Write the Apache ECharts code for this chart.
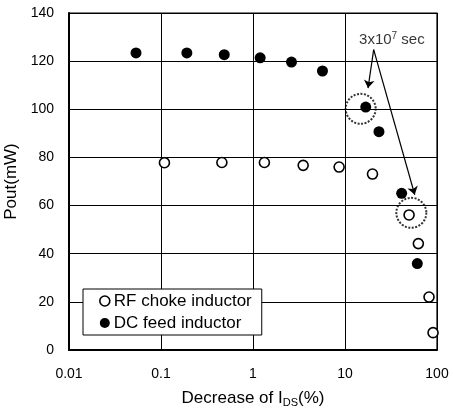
<!DOCTYPE html>
<html>
<head>
<meta charset="utf-8">
<script src="https://cdn.jsdelivr.net/npm/echarts@6/dist/echarts.min.js"></script>
<style>
  html, body { margin: 0; padding: 0; background: #fff; }
  #chart { width: 454px; height: 414px; }
</style>
</head>
<body>
<div id="chart"></div>
<script>
// Decrease of I_DS (%) and output power (mW) for the two bias inductor types
const rfChokeX = [0.109, 0.459, 1.33, 3.51, 8.63, 19.9, 49.7, 62.7, 81.9, 90.6];
const rfChokeY = [77.8, 77.9, 77.9, 76.7, 76.0, 73.1, 56.1, 44.2, 22.0, 7.2];
const dcFeedX = [0.0535, 0.191, 0.487, 1.196, 2.62, 5.69, 16.8, 23.4, 41.3, 61.1];
const dcFeedY = [123.4, 123.4, 122.7, 121.4, 119.6, 115.9, 100.9, 90.7, 65.1, 35.9];

// Points reached after 3x10^7 sec of stress (ringed with dotted circles)
const stressedX = [14.8, 52.6];
const stressedY = [100.2, 57.0];

// Annotation text anchor and arrow end points
const noteX = [32.3];
const noteY = [128.8];
const arrowFromX = [20.5, 20.5];
const arrowFromY = [124.8, 124.8];
const arrowToX = [17.8, 57.3];
const arrowToY = [108.8, 64.5];

const xTickValues = [0.01, 0.1, 1, 10, 100];
const xTickLabels = ['0.01', '0.1', '1', '10', '100'];
const yTickLabels = ['0', '20', '40', '60', '80', '100', '120', '140'];

const FONT = 'Liberation Sans, Arial, sans-serif';

const zip = (xs, ys) => xs.map((x, i) => [x, ys[i]]);

const chart = echarts.init(document.getElementById('chart'), null, { renderer: 'canvas' });

chart.setOption({
  animation: false,
  backgroundColor: '#fff',
  textStyle: { fontFamily: FONT, color: '#000' },
  grid: {
    left: 69, right: 17, top: 13, bottom: 64,
    outerBoundsMode: 'none',
    containLabel: false,
    show: true, borderColor: '#000', borderWidth: 1.2
  },
  legend: {
    orient: 'vertical',
    left: 83, top: 289,
    padding: [2, 10, 2, 16],
    itemGap: 2,
    itemWidth: 10, itemHeight: 10,
    backgroundColor: '#fff',
    borderColor: '#000', borderWidth: 1,
    borderRadius: 0,
    textStyle: { fontFamily: FONT, fontSize: 17, color: '#000', lineHeight: 20, padding: [0, 0, 0, -1] },
    data: [
      { name: 'RF choke inductor', icon: 'circle', itemStyle: { color: '#fff', borderColor: '#000', borderWidth: 1.6 } },
      { name: 'DC feed inductor', icon: 'circle', itemStyle: { color: '#000' } }
    ]
  },
  xAxis: {
    type: 'log',
    logBase: 10,
    min: 0.01, max: 100,
    name: '{a|Decrease of I}{s|DS}{a|(%)}',
    nameLocation: 'middle',
    nameGap: 39,
    nameTextStyle: {
      rich: {
        a: { fontFamily: FONT, fontSize: 17, color: '#000' },
        s: { fontFamily: FONT, fontSize: 11, color: '#000', verticalAlign: 'bottom', padding: [8, 0, 0, 0] }
      }
    },
    axisLine: { show: true, lineStyle: { color: '#000', width: 2 } },
    axisTick: { show: false },
    splitLine: { show: true, lineStyle: { color: '#000', width: 1 } },
    minorSplitLine: { show: false },
    axisLabel: {
      fontFamily: FONT, fontSize: 14, color: '#000', margin: 17,
      formatter: v => {
        const i = xTickValues.findIndex(t => Math.abs(Math.log10(t) - Math.log10(v)) < 1e-6);
        return i >= 0 ? xTickLabels[i] : '';
      }
    }
  },
  yAxis: {
    type: 'value',
    min: 0, max: 140, interval: 20,
    name: 'Pout(mW)',
    nameLocation: 'middle',
    nameGap: 34,
    nameTextStyle: { fontFamily: FONT, fontSize: 17, color: '#000' },
    axisLine: { show: true, lineStyle: { color: '#000', width: 2 } },
    axisTick: { show: false },
    splitLine: { show: true, lineStyle: { color: '#000', width: 1 } },
    axisLabel: {
      fontFamily: FONT, fontSize: 14, color: '#000', margin: 15,
      formatter: v => yTickLabels[Math.round(v / 20)]
    }
  },
  series: [
    {
      name: 'RF choke inductor',
      type: 'scatter',
      symbol: 'circle',
      symbolSize: 10,
      itemStyle: { color: '#fff', borderColor: '#000', borderWidth: 1.6, opacity: 1 },
      data: zip(rfChokeX, rfChokeY),
      z: 3
    },
    {
      name: 'DC feed inductor',
      type: 'scatter',
      symbol: 'circle',
      symbolSize: 11,
      itemStyle: { color: '#000', opacity: 1 },
      data: zip(dcFeedX, dcFeedY),
      z: 3
    },
    {
      name: 'stressed',
      type: 'scatter',
      symbol: 'circle',
      symbolSize: 30,
      silent: true,
      itemStyle: { color: 'rgba(0,0,0,0)', borderColor: '#000', borderWidth: 2, borderType: [2, 1.5] },
      data: zip(stressedX, stressedY),
      z: 2
    },
    {
      name: 'arrows',
      type: 'lines',
      coordinateSystem: 'cartesian2d',
      silent: true,
      symbol: ['none', 'arrow'],
      symbolSize: 8,
      lineStyle: { color: '#000', width: 1.2, opacity: 1, curveness: 0 },
      data: arrowToX.map((x, i) => ({
        coords: [[arrowFromX[i], arrowFromY[i]], [x, arrowToY[i]]]
      })),
      z: 4
    },
    {
      name: 'note',
      type: 'scatter',
      silent: true,
      symbolSize: 0,
      data: zip(noteX, noteY),
      label: {
        show: true,
        position: 'inside',
        formatter: '{a|3x10}{s|7}{a| sec}',
        rich: {
          a: { fontFamily: FONT, fontSize: 15, color: '#000' },
          s: { fontFamily: FONT, fontSize: 10, color: '#000', verticalAlign: 'top', padding: [0, 0, 8, 0] }
        }
      },
      z: 5
    }
  ]
});
</script>
</body>
</html>
